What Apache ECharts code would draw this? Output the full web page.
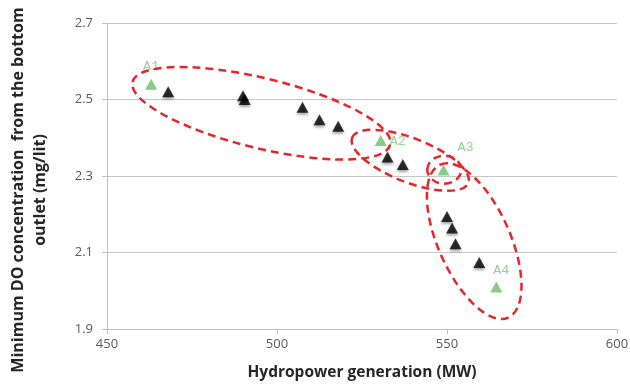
<!DOCTYPE html>
<html>
<head>
<meta charset="utf-8">
<script src="https://cdn.jsdelivr.net/npm/echarts@6/dist/echarts.min.js"></script>
<style>
    html, body { margin: 0; padding: 0; background: #fff; }
    #chart { width: 630px; height: 386px; }
</style>
</head>
<body>
<div id="chart"></div>
<script>

var xTicks = [450, 500, 550, 600];
var yTicks = [1.9, 2.1, 2.3, 2.5, 2.7];

// black triangles
var otherX = [468, 490, 490.5, 507.5, 512.5, 518, 532.5, 537, 550, 551.5, 552.5, 559.5];
var otherY = [2.52, 2.51, 2.50, 2.48, 2.447, 2.43, 2.35, 2.33, 2.194, 2.164, 2.123, 2.074];

// green labelled triangles
var pickNames = ["A1", "A2", "A3", "A4"];
var pickX = [463, 530.5, 549, 564.5];
var pickY = [2.54, 2.393, 2.316, 2.01];

// dashed rings drawn round the groups: two ends of the long axis (data units)
var ringFrom = [[457.5, 2.546], [522.1, 2.400], [544.2, 2.3165], [548.0, 2.330]];
var ringTo   = [[533.3, 2.382], [556.3, 2.282], [554.2, 2.3165], [568.0, 1.930]];
var ringHalf = [35, 22, 14, 36];

function pairs(xs, ys) {
    var arr = [];
    for (var i = 0; i < xs.length; i++) {
        arr.push([xs[i], ys[i]]);
    }
    return arr;
}

var labelSpots = [
    { position: "top", distance: 5, offset: [0, 0] },
    { position: "right", distance: 3, offset: [0, 1] },
    { position: "top", distance: 4, offset: [22, -6] },
    { position: "top", distance: 4, offset: [5, 0] }
];

var pickData = pickNames.map(function (name, i) {
    return {
        name: name,
        value: [pickX[i], pickY[i]],
        label: labelSpots[i]
    };
});

var axisText = { color: "#595959", fontSize: 13, fontFamily: "Open Sans" };

var option = {
    animation: false,
    backgroundColor: "#ffffff",
    grid: {
        left: 107,
        right: 13,
        top: 23,
        bottom: 57,
        outerBoundsMode: "none"
    },
    xAxis: {
        type: "value",
        min: xTicks[0],
        max: xTicks[xTicks.length - 1],
        interval: 50,
        name: "Hydropower generation (MW)",
        nameLocation: "middle",
        nameGap: 36,
        nameTextStyle: { fontFamily: "Open Sans", fontWeight: "bold", fontSize: 15.5, color: "#262626" },
        axisLine: { show: true, lineStyle: { color: "#bfbfbf" } },
        axisTick: { show: true, length: 5, lineStyle: { color: "#bfbfbf" } },
        axisLabel: Object.assign({ margin: 9 }, axisText),
        splitLine: { show: false }
    },
    yAxis: {
        type: "value",
        min: yTicks[0],
        max: yTicks[yTicks.length - 1],
        interval: 0.2,
        name: "Minimum DO concentration  from the bottom\noutlet (mg/lit)",
        nameLocation: "middle",
        nameGap: 56,
        nameTextStyle: {
            fontFamily: "Open Sans", fontWeight: "bold", fontSize: 16, color: "#262626",
            lineHeight: 22, padding: [0, 28, 0, 0]
        },
        axisLine: { show: true, lineStyle: { color: "#bfbfbf" } },
        axisTick: { show: true, length: 5, lineStyle: { color: "#bfbfbf" } },
        axisLabel: Object.assign({
            margin: 14,
            formatter: function (v) { return v.toFixed(1); }
        }, axisText),
        splitLine: { show: true, lineStyle: { color: "#c6c6c6", width: 1 } }
    },
    series: [
        {
            name: "other",
            type: "scatter",
            symbol: "triangle",
            symbolSize: [12, 11],
            itemStyle: {
                color: "#000000",
                shadowBlur: 3,
                shadowColor: "rgba(0,0,0,0.45)",
                shadowOffsetY: 2
            },
            data: pairs(otherX, otherY)
        },
        {
            name: "picked",
            type: "scatter",
            symbol: "triangle",
            symbolSize: [12, 11],
            itemStyle: { color: "#6cbf6c" },
            label: {
                show: true,
                formatter: "{b}",
                color: "#7cc77c",
                fontFamily: "Liberation Mono",
                fontSize: 13.5
            },
            data: pickData
        }
    ]
};

var chart = echarts.init(document.getElementById("chart"), null, { renderer: "canvas" });
chart.setOption(option);

// rings are placed after the axes exist, so their ends go through the grid's scale
var rings = ringFrom.map(function (a, i) {
    var p = chart.convertToPixel({ gridIndex: 0 }, a);
    var q = chart.convertToPixel({ gridIndex: 0 }, ringTo[i]);
    var dx = q[0] - p[0], dy = q[1] - p[1];
    return {
        type: "ellipse",
        x: (p[0] + q[0]) / 2,
        y: (p[1] + q[1]) / 2,
        rotation: -Math.atan2(dy, dx),
        shape: { cx: 0, cy: 0, rx: Math.sqrt(dx * dx + dy * dy) / 2, ry: ringHalf[i] },
        style: { fill: null, stroke: "#e8262a", lineWidth: 2.5, lineDash: [8, 5] },
        z: 10,
        silent: true
    };
});
chart.setOption({ graphic: rings });

</script>
</body>
</html>
